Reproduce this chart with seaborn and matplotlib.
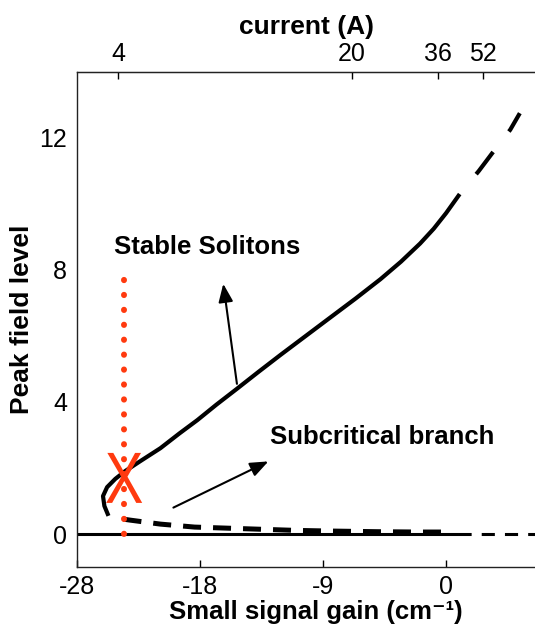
import numpy as np
import pandas as pd
import matplotlib
matplotlib.use("Agg")
import matplotlib.pyplot as plt
import seaborn as sns
from matplotlib.textpath import TextPath
from matplotlib.patches import PathPatch
from matplotlib.font_manager import FontProperties
from matplotlib.transforms import Affine2D, ScaledTranslation

# Stable soliton branch (solid part, traced from the lower tip around the nose)
stable_gain = [-24.7, -25.0, -25.1, -24.8, -24.2, -23.5, -22.4, -20.9, -19.5,
               -18.2, -16.8, -15.3, -13.7, -12.1, -10.3, -8.5, -6.6, -4.8,
               -3.3, -1.9, -0.9, 0.0, 1.0]
stable_peak = [0.55, 0.85, 1.15, 1.42, 1.67, 1.9, 2.2, 2.6, 3.05,
               3.45, 3.92, 4.4, 4.92, 5.43, 5.99, 6.55, 7.14, 7.72,
               8.25, 8.8, 9.25, 9.72, 10.3]

# Stable branch continued past threshold (dashed)
upper_gain = [1.0, 2.4, 3.4, 4.7, 5.4]
upper_peak = [10.3, 11.0, 11.55, 12.25, 12.75]

# Subcritical (unstable) branch
sub_gain = [-23.6, -23.1, -20.9, -18.4, -16.2, -14.0, -11.0, -8.5, -5.0, -2.0, 0.0]
sub_peak = [0.45, 0.42, 0.30, 0.21, 0.18, 0.15, 0.11, 0.09, 0.07, 0.06, 0.06]

# Zero-field solution: stable below threshold, unstable above
zero_stable_gain = [-27.0, 0.9]
zero_unstable_gain = [0.9, 6.5]

# Saddle-node point and the stability boundary through it
saddle_gain = -23.55
saddle_peak = 1.7
boundary_peak = [0.0, 7.8]

# Axis ticks
gain_tick_pos = [-27, -18, -9, 0]
gain_tick_labels = ["-28", "-18", "-9", "0"]
peak_ticks = [0, 4, 8, 12]
current_tick_pos = [-24.0, -6.9, -0.6, 2.7]
current_tick_labels = ["4", "20", "36", "52"]

RED = "#ff3a0f"

sns.set_style("white")
plt.rcParams["font.family"] = ["Liberation Sans", "DejaVu Sans"]
for key in ["text.color", "axes.labelcolor", "xtick.color", "ytick.color"]:
    plt.rcParams[key] = "black"

fig = plt.figure(figsize=(5.35, 6.31), dpi=100)
ax = fig.add_axes([0.144, 0.1014, 0.856, 0.7846])

df_stable = pd.DataFrame({"gain": stable_gain, "peak": stable_peak})
df_upper = pd.DataFrame({"gain": upper_gain, "peak": upper_peak})
df_sub = pd.DataFrame({"gain": sub_gain, "peak": sub_peak})
df_z1 = pd.DataFrame({"gain": zero_stable_gain, "peak": [0.0, 0.0]})
df_z2 = pd.DataFrame({"gain": zero_unstable_gain, "peak": [0.0, 0.0]})
df_bound = pd.DataFrame({"gain": [saddle_gain, saddle_gain], "peak": boundary_peak})

sns.lineplot(data=df_z1, x="gain", y="peak", ax=ax, color="black", lw=2.2,
             sort=False, estimator=None)
sns.lineplot(data=df_z2, x="gain", y="peak", ax=ax, color="black", lw=2.2,
             sort=False, estimator=None, linestyle=(0, (4.3, 3.3)))
sns.lineplot(data=df_sub, x="gain", y="peak", ax=ax, color="black", lw=3.6,
             sort=False, estimator=None, linestyle=(0, (3.6, 2.4)))
sns.lineplot(data=df_stable, x="gain", y="peak", ax=ax, color="black", lw=3.0,
             sort=False, estimator=None, solid_capstyle="butt",
             solid_joinstyle="round")
sns.lineplot(data=df_upper, x="gain", y="peak", ax=ax, color="black", lw=3.0,
             sort=False, estimator=None, linestyle=(6.7, (6.7, 6.2)))
sns.lineplot(data=df_bound, x="gain", y="peak", ax=ax, color=RED, lw=4.3,
             sort=False, estimator=None, linestyle=(0, (0.05, 2.45)),
             dash_capstyle="round")

# Red "X" marking the saddle-node point (glyph squeezed horizontally)
tp = TextPath((0, 0), "X", size=1, prop=FontProperties(family="Liberation Sans"))
ext = tp.get_extents()
cx, cy = (ext.x0 + ext.x1) / 2, (ext.y0 + ext.y1) / 2
sx, sy = 36 / ext.width, 50 / ext.height
trans = (Affine2D().translate(-cx, -cy).scale(sx, sy)
         + ScaledTranslation(saddle_gain, saddle_peak, ax.transData))
ax.add_patch(PathPatch(tp, transform=trans, facecolor=RED, edgecolor="none",
                       zorder=5, clip_on=False))

ax.set_xlim(-27, 6.51)
ax.set_ylim(-1, 14)
ax.set_xticks(gain_tick_pos)
ax.set_xticklabels(gain_tick_labels)
ax.set_yticks(peak_ticks)
ax.tick_params(axis="both", direction="in", length=5, width=1, labelsize=18,
               colors="black")
ax.tick_params(axis="x", pad=6)
ax.tick_params(axis="y", pad=7)
for side in ["left", "bottom", "top"]:
    ax.spines[side].set_color("#222222")
    ax.spines[side].set_linewidth(1.0)
ax.spines["right"].set_visible(False)

ax.set_xlabel("Small signal gain (cm\u207b\u00b9)", fontsize=18.5,
              fontweight="bold")
ax.xaxis.set_label_coords(0.522, -0.066)
ax.set_ylabel("Peak field level", fontsize=19, fontweight="bold", labelpad=4)

top = ax.twiny()
top.set_xlim(ax.get_xlim())
top.set_xticks(current_tick_pos)
top.set_xticklabels(current_tick_labels)
top.tick_params(axis="x", direction="in", length=5, width=1, labelsize=18, pad=4)
for side in ["left", "right", "bottom"]:
    top.spines[side].set_visible(False)
top.spines["top"].set_color("#222222")
top.set_xlabel("current (A)", fontsize=19, fontweight="bold", labelpad=6)

ax.text(-24.3, 8.48, "Stable Solitons", fontsize=18.5, fontweight="bold",
        ha="left", va="baseline")
ax.text(-12.87, 2.73, "Subcritical branch", fontsize=18.5, fontweight="bold",
        ha="left", va="baseline")

arrow = dict(arrowstyle="-|>,head_length=0.55,head_width=0.22", lw=1.5,
             color="black", mutation_scale=20, shrinkA=0, shrinkB=0)
ax.annotate("", xy=(-16.3, 7.58), xytext=(-15.3, 4.55), arrowprops=arrow)
ax.annotate("", xy=(-13.0, 2.2), xytext=(-19.95, 0.8), arrowprops=arrow)

fig.savefig("out.png", dpi=100)
